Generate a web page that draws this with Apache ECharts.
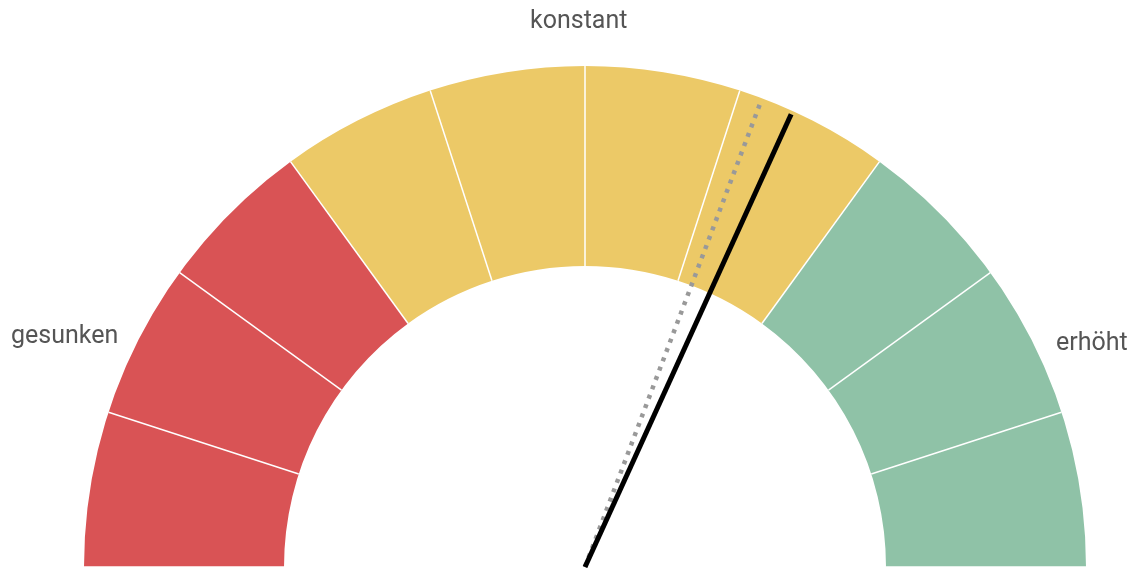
<!DOCTYPE html>
<html>
<head>
<meta charset="utf-8">
<script src="https://cdn.jsdelivr.net/npm/echarts@6/dist/echarts.min.js"></script>
<style>
  html, body { margin: 0; padding: 0; background: #fff; }
  #chart { width: 1137px; height: 569px; }
</style>
</head>
<body>
<div id="chart"></div>
<script>
// Skala 0..10, 10 Segmente
var segmentStops = [0.3, 0.7, 1];
var segmentColors = ['#d95355', '#ecc967', '#8fc2a7'];
var currentValue = 6.36;   // schwarzer Zeiger
var previousValue = 6.15;  // grauer, gepunkteter Zeiger
var labels = ['gesunken', 'konstant', 'erhöht'];

var chartDom = document.getElementById('chart');
var myChart = echarts.init(chartDom);
var option;

var cx = 585, cy = 567;
var labelStyle = { fontSize: 25, fontFamily: 'Roboto', fill: '#555' };

option = {
  animation: false,
  polar: {
    center: [cx, cy],
    radius: [0, 500]
  },
  angleAxis: {
    type: 'value',
    min: 0,
    max: 20,
    startAngle: 180,
    clockwise: true,
    show: false
  },
  radiusAxis: {
    type: 'value',
    min: 0,
    max: 1,
    show: false
  },
  graphic: [
    { type: 'text', left: 11, top: 324, style: Object.assign({ text: labels[0] }, labelStyle) },
    { type: 'text', left: 530, top: 9, style: Object.assign({ text: labels[1] }, labelStyle) },
    { type: 'text', left: 1056, top: 331, style: Object.assign({ text: labels[2] }, labelStyle) }
  ],
  series: [
    {
      type: 'gauge',
      center: [cx, cy],
      radius: 501,
      startAngle: 180,
      endAngle: 0,
      min: 0,
      max: 10,
      splitNumber: 10,
      axisLine: {
        lineStyle: {
          width: 200,
          color: segmentStops.map(function (s, i) { return [s, segmentColors[i]]; })
        }
      },
      splitLine: {
        distance: -200,
        length: 200,
        lineStyle: { color: '#fff', width: 1.5 }
      },
      axisTick: { show: false },
      axisLabel: { show: false },
      pointer: { show: false },
      anchor: { show: false },
      title: { show: false },
      detail: { show: false },
      data: [{ value: currentValue }]
    },
    {
      type: 'line',
      coordinateSystem: 'polar',
      symbol: 'none',
      z: 4,
      lineStyle: { color: '#999', width: 4.5, type: [4, 6] },
      data: [[0, previousValue], [1, previousValue]]
    },
    {
      type: 'line',
      coordinateSystem: 'polar',
      symbol: 'none',
      z: 5,
      lineStyle: { color: '#000', width: 5 },
      data: [[0, currentValue], [0.995, currentValue]]
    }
  ]
};

option && myChart.setOption(option);
</script>
</body>
</html>
